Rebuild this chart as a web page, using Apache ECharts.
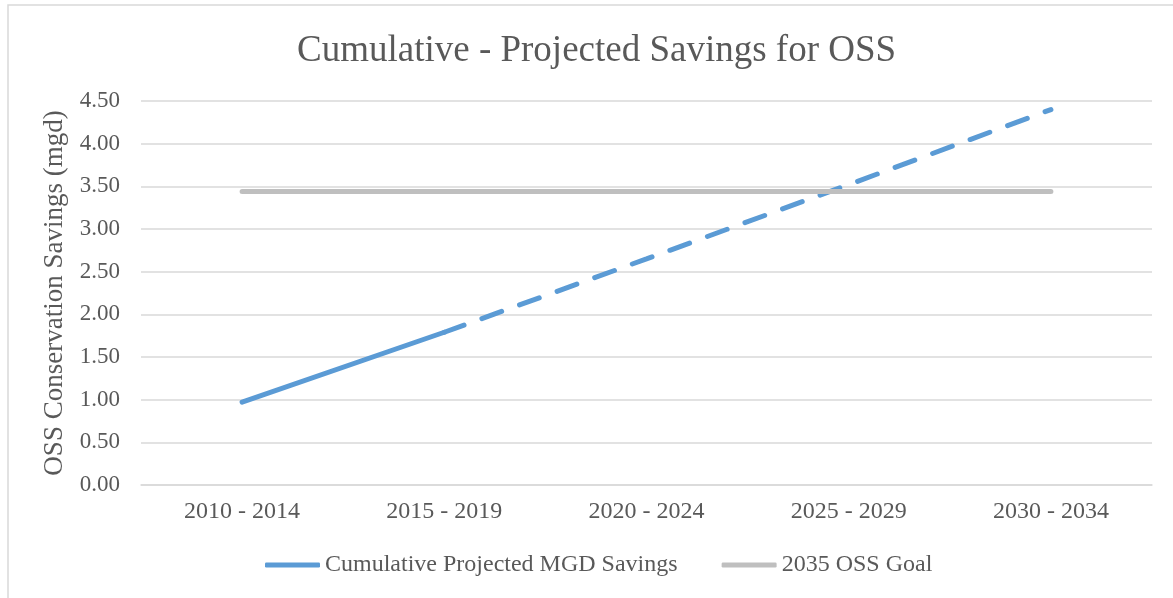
<!DOCTYPE html>
<html>
<head>
<meta charset="utf-8">
<title>Cumulative - Projected Savings for OSS</title>
<script src="https://cdn.jsdelivr.net/npm/echarts@6/dist/echarts.min.js"></script>
<style>
  html, body { margin: 0; padding: 0; background: #fff; }
  #chart { width: 1173px; height: 598px; }
</style>
</head>
<body>
<div id="chart"></div>
<script>
// 数据
const periods = ['2010 - 2014', '2015 - 2019', '2020 - 2024', '2025 - 2029', '2030 - 2034'];
const projectedSavings = [0.97, 1.79, 2.65, 3.52, 4.40];
const ossGoal = [3.44, 3.44, 3.44, 3.44, 3.44];
// 前两个点为实线，之后为预测虚线
const actualCount = 2;

const solidPart = projectedSavings.map((v, i) => (i < actualCount ? v : '-'));
const dashedPart = projectedSavings.map((v, i) => (i >= actualCount - 1 ? v : '-'));

const serif = '"Liberation Serif", "DejaVu Serif", serif';
const grey = '#595959';

const myChart = echarts.init(document.getElementById('chart'));

const option = {
    animation: false,
    title: {
        text: 'Cumulative - Projected Savings for OSS',
        left: 292,
        top: 28,
        textStyle: { fontFamily: serif, fontSize: 37, fontWeight: 'normal', color: grey }
    },
    graphic: [
        {
            type: 'rect',
            shape: { x: 8, y: 5, width: 1300, height: 700 },
            style: { fill: 'none', stroke: '#D9D9D9', lineWidth: 1.5 },
            silent: true
        },
        {
            // 页面顶部被截断的图题
            type: 'text',
            x: 12,
            y: -10,
            style: {
                text: 'Figure 4-8: Cumulative - Projected Water Savings (Not Including the Alternative Water Supply)',
                font: 'bold 21px ' + serif,
                fill: '#000',
                verticalAlign: 'middle'
            },
            silent: true
        }
    ],
    legend: {
        data: ['Cumulative Projected MGD Savings', '2035 OSS Goal'],
        left: 265,
        top: 553,
        padding: 0,
        icon: 'roundRect',
        itemWidth: 55,
        itemHeight: 5,
        itemGap: 44,
        textStyle: { fontFamily: serif, fontSize: 24, color: grey }
    },
    grid: {
        left: 141,
        right: 21,
        top: 101,
        bottom: 113,
        containLabel: false
    },
    xAxis: {
        type: 'category',
        data: periods,
        boundaryGap: true,
        axisLine: { lineStyle: { color: '#D9D9D9', width: 1.5 } },
        axisTick: { show: false },
        axisLabel: { fontFamily: serif, fontSize: 24, color: grey, margin: 15 }
    },
    yAxis: {
        type: 'value',
        min: 0,
        max: 4.5,
        interval: 0.5,
        name: 'OSS Conservation Savings (mgd)',
        nameLocation: 'middle',
        nameGap: 67,
        nameTextStyle: { fontFamily: serif, fontSize: 27, color: grey },
        axisLine: { show: false },
        axisTick: { show: false },
        axisLabel: {
            fontFamily: serif,
            fontSize: 23,
            color: grey,
            margin: 21,
            formatter: v => v.toFixed(2)
        },
        splitLine: { lineStyle: { color: '#D9D9D9', width: 1.5 } }
    },
    series: [
        {
            name: 'Cumulative Projected MGD Savings',
            type: 'line',
            data: solidPart,
            symbol: 'none',
            color: '#5B9BD5',
            lineStyle: { width: 5, color: '#5B9BD5', cap: 'round' }
        },
        {
            name: 'Cumulative Projected MGD Savings',
            type: 'line',
            data: dashedPart,
            symbol: 'none',
            color: '#5B9BD5',
            lineStyle: { width: 5, color: '#5B9BD5', type: [21, 19], cap: 'round' }
        },
        {
            name: '2035 OSS Goal',
            type: 'line',
            data: ossGoal,
            symbol: 'none',
            color: '#BFBFBF',
            lineStyle: { width: 5, color: '#BFBFBF', cap: 'round' }
        }
    ]
};
myChart.setOption(option);
window.onresize = () => {
    myChart.resize();
};
</script>
</body>
</html>
